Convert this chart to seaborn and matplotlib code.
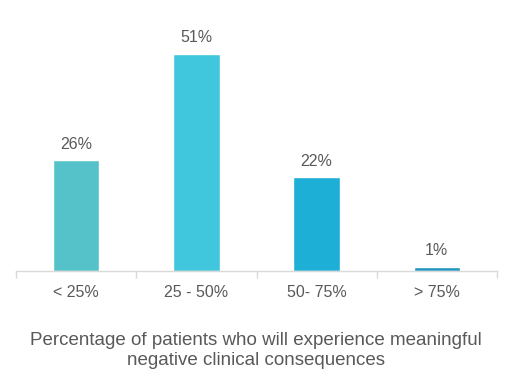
import pandas as pd
import seaborn as sns
import matplotlib.pyplot as plt

# chart data
categories = ['< 25%', '25 - 50%', '50- 75%', '> 75%']
percent = [26, 51, 22, 1]
bar_colors = ['#55C1C8', '#40C6DD', '#1EAFD6', '#2196C0']

df = pd.DataFrame({'range': categories, 'pct': percent})

sns.set_style('white')
plt.rcParams['font.family'] = ['Liberation Sans', 'DejaVu Sans']

fig = plt.figure(figsize=(5.12, 3.83), dpi=100)
ax = fig.add_axes([16 / 512, 1 - 271 / 383, 481 / 512, 252 / 383])

sns.barplot(data=df, x='range', y='pct', hue='range', palette=bar_colors,
            width=0.385, legend=False, ax=ax, saturation=1)

for i, v in enumerate(percent):
    ax.text(i, v + 2.0, '%d%%' % v, ha='center', va='bottom', fontsize=11.5, color='#595959')

ax.set_xlim(-0.5, 3.5)
ax.set_ylim(0, 59.2)
ax.set_yticks([])
ax.set_xlabel('')
ax.set_ylabel('')
for s in ['top', 'right', 'left']:
    ax.spines[s].set_visible(False)
ax.spines['bottom'].set_color('#D9D9D9')
ax.spines['bottom'].set_linewidth(1)

# boundary tick marks between categories
ax.set_xticks([-0.5, 0.5, 1.5, 2.5, 3.5], minor=True)
ax.tick_params(axis='x', which='minor', length=5, color='#D9D9D9', width=1, bottom=True)
ax.tick_params(axis='x', which='major', length=0, pad=10, labelsize=11.5, labelcolor='#595959')

fig.text(0.5, 0.085, 'Percentage of patients who will experience meaningful\nnegative clinical consequences',
         ha='center', va='center', fontsize=13.5, color='#595959', linespacing=1.2)

plt.savefig('out.png', dpi=100)
